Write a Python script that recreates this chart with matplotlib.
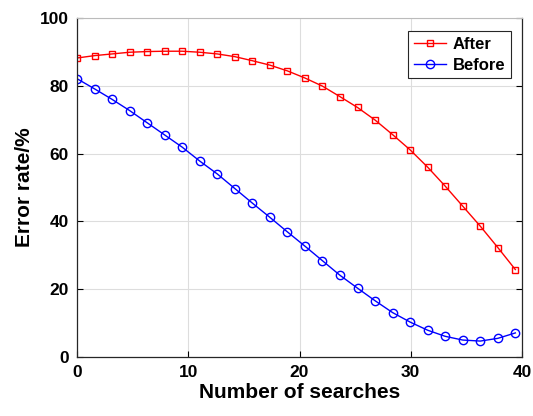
import numpy as np
import matplotlib
matplotlib.use('Agg')
import matplotlib.pyplot as plt

plt.rcParams['font.family'] = ['Liberation Sans', 'DejaVu Sans']
plt.rcParams['font.weight'] = 'bold'

# Data
searches = np.linspace(0, 39.4, 26)
after = [88.2, 88.9, 89.4, 89.9, 90.1, 90.2, 90.2, 89.9, 89.4, 88.6, 87.4, 86.1, 84.4,
         82.3, 79.9, 76.8, 73.6, 69.9, 65.6, 61.1, 56.0, 50.4, 44.5, 38.6, 32.3, 25.8]
before = [82.1, 79.1, 76.0, 72.7, 69.1, 65.5, 61.9, 57.8, 54.0, 49.7, 45.4, 41.2, 36.9,
          32.7, 28.4, 24.1, 20.3, 16.6, 13.1, 10.3, 7.9, 6.1, 5.0, 4.7, 5.5, 7.1]

fig = plt.figure(figsize=(5.33, 4.16), dpi=100)
ax = fig.add_axes([77 / 533, 1 - 357 / 416, 445 / 533, 339 / 416])

ax.plot(searches, after, color='red', marker='s', markersize=5, markerfacecolor='none',
        markeredgewidth=1.0, linewidth=1.0, label='After')
ax.plot(searches, before, color='blue', marker='o', markersize=6, markerfacecolor='none',
        markeredgewidth=1.0, linewidth=1.0, label='Before')

ax.set_xlim(0, 40)
ax.set_ylim(0, 100)
ax.set_xticks([0, 10, 20, 30, 40])
ax.set_yticks([0, 20, 40, 60, 80, 100])
ax.grid(True, color='#dddddd', linewidth=0.8)
ax.set_axisbelow(True)
ax.tick_params(direction='in', length=4, width=0.8, labelsize=12.5, right=True, pad=6)
for lab in ax.get_xticklabels() + ax.get_yticklabels():
    lab.set_fontweight('bold')
for s in ['left', 'bottom', 'right']:
    ax.spines[s].set_color('#262626')
    ax.spines[s].set_linewidth(0.9)
ax.spines['top'].set_color('#bbbbbb')

ax.set_xlabel('Number of searches', fontsize=15, fontweight='bold', labelpad=2)
ax.set_ylabel('Error rate/%', fontsize=15, fontweight='bold', labelpad=4)

leg = ax.legend(loc='upper right', fontsize=12, fancybox=False, framealpha=1,
                edgecolor='#262626', borderpad=0.35, handlelength=1.9, handletextpad=0.4,
                bbox_to_anchor=(0.975, 0.962), labelspacing=0.35, borderaxespad=0)
leg.get_frame().set_linewidth(0.8)
for t in leg.get_texts():
    t.set_fontweight('bold')

fig.savefig('out.png', dpi=100)
